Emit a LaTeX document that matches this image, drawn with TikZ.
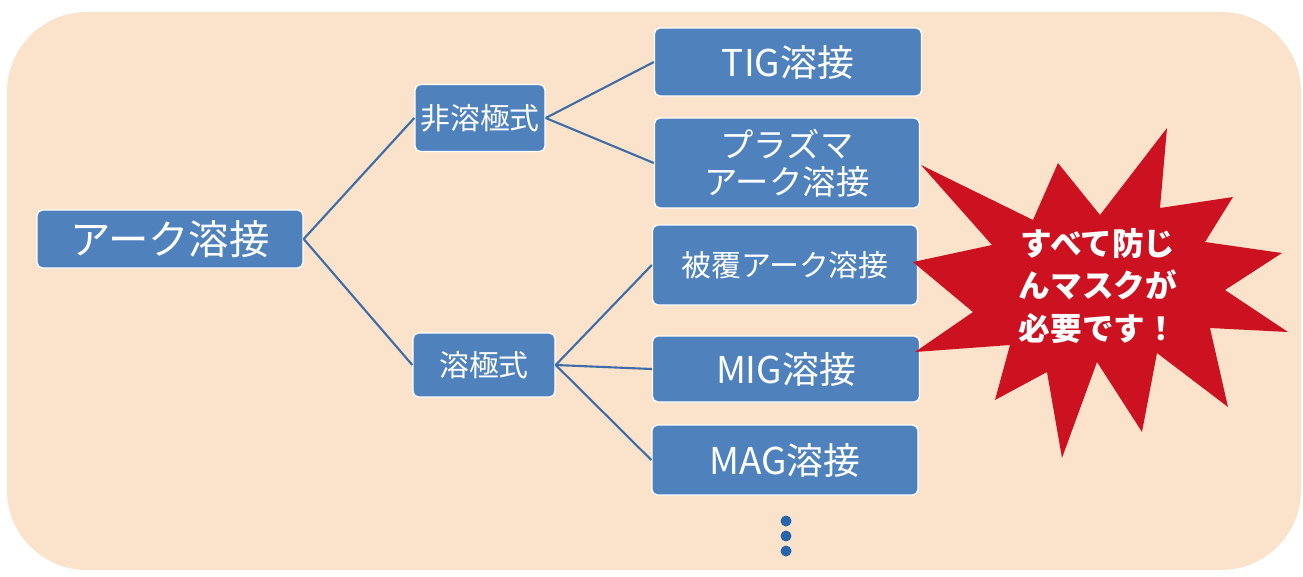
\documentclass[tikz,border=0pt]{standalone}
\usepackage{fontspec}
\setmainfont{Noto Sans CJK JP}
\usepackage{tikz}
\usepackage{xcolor}
\definecolor{peach}{RGB}{251,226,202}
\definecolor{boxblue}{RGB}{79,129,189}
\definecolor{linkblue}{RGB}{62,108,166}
\definecolor{dotblue}{RGB}{40,100,170}
\definecolor{burstred}{RGB}{204,18,32}

\begin{document}
\begin{tikzpicture}[x=0.02cm,y=-0.02cm,
    box/.style={draw=white,line width=0.8pt,fill=boxblue,rounded corners=3pt,
      text=white,align=center,inner sep=0pt},
    link/.style={linkblue,line width=1.2pt}]
  \fill[white] (0,0) rectangle (1303,576);
  \useasboundingbox (0,0) rectangle (1303,576);
  \fill[peach,rounded corners=1.6cm] (7,12) rectangle (1301,570);
  \node[box,minimum width=5.32cm,minimum height=1.16cm,font=\fontsize{23}{27}\selectfont] (arc) at (170,239) {アーク溶接};
  \node[box,minimum width=2.6cm,minimum height=1.34cm,font=\fontsize{17}{20}\selectfont] (nonc) at (480,118) {非溶極式};
  \node[box,minimum width=2.84cm,minimum height=1.28cm,font=\fontsize{17}{20}\selectfont] (cons) at (484,365) {溶極式};
  \node[box,minimum width=5.34cm,minimum height=1.36cm,font=\fontsize{21}{25}\selectfont] (tig) at (788,62) {TIG溶接};
  \node[box,minimum width=5.3cm,minimum height=1.8cm,font=\fontsize{19}{21}\selectfont] (plasma) at (787,163) {プラズマ\\アーク溶接};
  \node[box,minimum width=5.3cm,minimum height=1.6cm,font=\fontsize{17}{20}\selectfont] (smaw) at (785,265) {被覆アーク溶接};
  \node[box,minimum width=5.34cm,minimum height=1.32cm,font=\fontsize{21}{25}\selectfont] (mig) at (786,369) {MIG溶接};
  \node[box,minimum width=5.32cm,minimum height=1.4cm,font=\fontsize{21}{25}\selectfont] (mag) at (785,460) {MAG溶接};
  \draw[link] (arc.east) -- (nonc.west);
  \draw[link] (arc.east) -- (cons.west);
  \draw[link] (nonc.east) -- (tig.west);
  \draw[link] (nonc.east) -- (plasma.west);
  \draw[link] (cons.east) -- (smaw.west);
  \draw[link] (cons.east) -- (mig.west);
  \draw[link] (cons.east) -- (mag.west);
  \foreach \y in {521,536,551}
    \fill[dotblue] (786,\y) circle (5.5);
  \fill[burstred] (921,165) -- (1033,220) -- (1058,163) -- (1100,215) -- (1167,128)
    -- (1160,208) -- (1233,197) -- (1205,242) -- (1282,253) -- (1225,290)
    -- (1288,332) -- (1210,328) -- (1228,407) -- (1157,353) -- (1142,432)
    -- (1097,362) -- (1062,458) -- (1047,372) -- (995,400) -- (1010,345)
    -- (915,352) -- (973,312) -- (913,262) -- (992,245) -- cycle;
  \node[text=white,align=center,font=\bfseries\fontsize{18}{24}\selectfont] (warn) at (1098,286) {すべて防じ\\んマスクが\\必要です！};
\end{tikzpicture}
\end{document}
